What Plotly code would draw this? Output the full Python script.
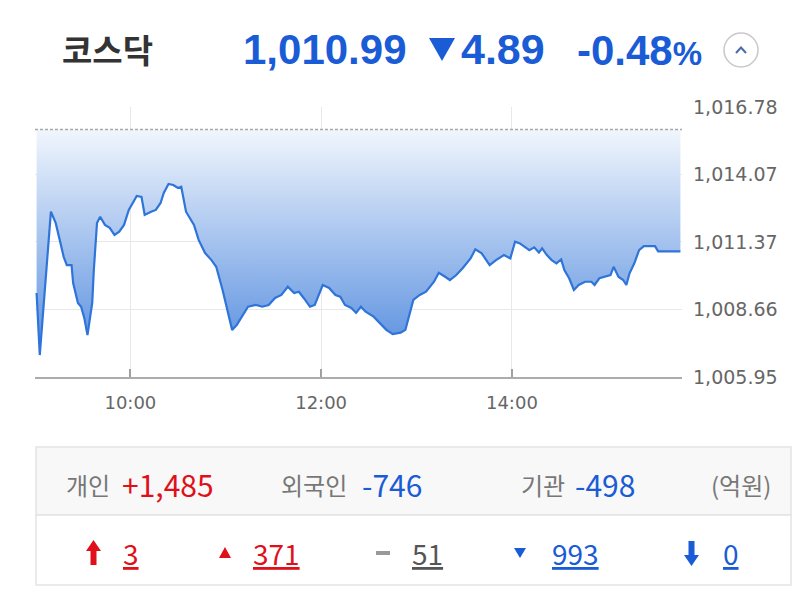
import plotly.graph_objects as go

# ---------------- data ----------------
index_name = "코스닥"
last_price = "1,010.99"
change_abs = "4.89"
change_pct = "-0.48"
prev_close = 1015.88

times = ["09:01","09:03","09:10","09:13","09:16","09:18","09:20","09:23","09:24","09:27",
         "09:29","09:31","09:33","09:36","09:37","09:39","09:41","09:44","09:47","09:50",
         "09:53","09:56","09:59","10:02","10:04","10:07","10:09","10:13","10:16","10:19",
         "10:21","10:24","10:27","10:30","10:32","10:35","10:40","10:43","10:47","10:51",
         "10:54","10:58","11:01","11:04","11:07","11:10","11:14","11:19","11:23","11:27",
         "11:31","11:35","11:39","11:43","11:46","11:49","11:53","11:56","11:59","12:01",
         "12:05","12:09","12:12","12:15","12:19","12:22","12:25","12:28","12:33","12:37",
         "12:41","12:45","12:50","12:53","12:56","12:58","13:02","13:06","13:11","13:14",
         "13:18","13:21","13:25","13:29","13:34","13:37","13:41","13:46","13:50","13:55",
         "13:59","14:02","14:05","14:08","14:11","14:14","14:17","14:19","14:22","14:25",
         "14:28","14:31","14:33","14:36","14:39","14:42","14:46","14:50","14:52","14:55",
         "14:59","15:02","15:04","15:07","15:10","15:12","15:14","15:17","15:20","15:23",
         "15:30","15:32","15:46"]

values = [1009.32, 1006.83, 1012.58, 1012.13, 1011.33, 1010.78, 1010.44, 1010.44, 1009.72, 1008.92,
          1008.77, 1008.32, 1007.63, 1008.92, 1010.24, 1012.13, 1012.38, 1012.05, 1011.93, 1011.65,
          1011.78, 1012.05, 1012.65, 1012.98, 1013.21, 1013.17, 1012.45, 1012.58, 1012.65, 1012.93,
          1013.33, 1013.69, 1013.65, 1013.53, 1013.58, 1012.58, 1012.05, 1011.44, 1010.92, 1010.64,
          1010.37, 1009.44, 1008.64, 1007.84, 1008.04, 1008.37, 1008.77, 1008.84, 1008.77, 1008.84,
          1009.12, 1009.24, 1009.57, 1009.32, 1009.37, 1009.12, 1008.77, 1008.84, 1009.37, 1009.64,
          1009.52, 1009.24, 1009.17, 1008.84, 1008.72, 1008.52, 1008.77, 1008.57, 1008.37, 1008.12,
          1007.84, 1007.67, 1007.73, 1007.84, 1008.52, 1009.04, 1009.24, 1009.37, 1009.77, 1010.13,
          1009.97, 1009.84, 1010.04, 1010.31, 1010.71, 1011.07, 1010.91, 1010.44, 1010.64, 1010.84,
          1010.71, 1011.38, 1011.31, 1011.18, 1011.04, 1011.15, 1010.94, 1011.11, 1010.84, 1010.64,
          1010.51, 1010.67, 1010.24, 1009.91, 1009.44, 1009.64, 1009.77, 1009.77, 1009.64, 1009.91,
          1009.97, 1010.04, 1010.37, 1009.97, 1009.84, 1009.64, 1010.11, 1010.51, 1011.04, 1011.20,
          1011.20, 1010.99, 1010.99]

y_ticks = [1005.95, 1008.66, 1011.37, 1014.07, 1016.78]
y_tick_labels = ["1,005.95", "1,008.66", "1,011.37", "1,014.07", "1,016.78"]
x_ticks = ["10:00", "12:00", "14:00"]
x_range = ["09:00", "15:47"]

investor_names = ["개인", "외국인", "기관"]
investor_values = ["+1,485", "-746", "-498"]
unit_label = "(억원)"
breadth_counts = ["3", "371", "51", "993", "0"]

# ---------------- styling ----------------
DAY = "2024-01-02 "
RED = "#e0101a"
BLUE = "#1a5bd6"
GRAY_TXT = "#777777"

OFF = 8  # page body margin offset
L, R, T, B = 35, 682, 107, 377   # plot area in screen pixels
W, H = 800, 589


def px(xp):
    return (xp - L) / (R - L)


def py(yp):
    return (B - yp) / (B - T)


xs = [DAY + t for t in times]

fig = go.Figure()

fig.add_trace(go.Scatter(x=[xs[0], xs[-1]], y=[prev_close, prev_close], mode="lines",
                         line=dict(width=0, color="rgba(0,0,0,0)"), hoverinfo="skip",
                         showlegend=False))
fig.add_trace(go.Scatter(x=xs, y=values, mode="lines", fill="tonexty",
                         line=dict(color="#2f74d9", width=2.2),
                         fillgradient=dict(type="vertical",
                                           colorscale=[[0, "#4a85dc"], [1, "#f1f6fd"]],
                                           start=y_ticks[0], stop=prev_close),
                         showlegend=False))
fig.add_trace(go.Scatter(x=[DAY + x_range[0], DAY + x_range[1]], y=[prev_close, prev_close],
                         mode="lines", line=dict(color="#a8a8a8", width=1.5, dash="3px,2px"),
                         hoverinfo="skip", showlegend=False))

fig.update_xaxes(type="date", range=[DAY + x_range[0], DAY + x_range[1]],
                 tickvals=[DAY + t for t in x_ticks], ticktext=x_ticks,
                 showgrid=True, gridcolor="#e8e8e8", gridwidth=1,
                 showline=True, linecolor="#acacac", linewidth=2,
                 ticks="inside", ticklen=8, tickcolor="#a0a0a0", tickwidth=1.5,
                 ticklabelstandoff=8,
                 tickfont=dict(family="DejaVu Sans", size=18, color="#666666"),
                 zeroline=False, fixedrange=True)
fig.update_yaxes(range=[y_ticks[0], y_ticks[-1]], side="right",
                 tickvals=y_ticks, ticktext=y_tick_labels,
                 showgrid=True, gridcolor="#e8e8e8", gridwidth=1,
                 showline=False, zeroline=False, ticks="",
                 ticklabelstandoff=10,
                 tickfont=dict(family="DejaVu Sans", size=19, color="#666666"))

annotations = []
shapes = []


def txt(text, xp, yp, size, color, family="Liberation Sans", anchor="left"):
    annotations.append(dict(text=text, x=px(xp), y=py(yp), xref="paper", yref="paper",
                            xanchor=anchor, yanchor="middle", showarrow=False,
                            font=dict(family=family, size=size, color=color)))


# ---- header ----
txt("<b>" + index_name + "</b>", 60, 49, 33, "#333333", family="Noto Sans CJK KR")
txt("<b>" + last_price + "</b>", 241, 49, 42, BLUE)
txt("<b>" + change_abs + "</b>", 459, 49, 43, BLUE)
txt("<b>" + change_pct + "</b><b><span style='font-size:33px'>%</span></b>", 575, 50, 42, BLUE)


def path_px(points, fill, line_color=None, width=0):
    d = "M " + " L ".join(f"{px(a)},{py(b)}" for a, b in points) + " Z"
    shapes.append(dict(type="path", path=d, xref="paper", yref="paper",
                       fillcolor=fill, line=dict(color=line_color or fill, width=width)))


path_px([(429, 38), (455, 38), (442, 61)], BLUE)

shapes.append(dict(type="circle", xref="paper", yref="paper",
                   x0=px(724), x1=px(758), y0=py(67), y1=py(33),
                   line=dict(color="#c9c9c9", width=1.5), fillcolor="white"))
shapes.append(dict(type="path", xref="paper", yref="paper",
                   path=f"M {px(736)},{py(53)} L {px(741)},{py(47.5)} L {px(746)},{py(53)}",
                   line=dict(color="#4a6aa8", width=2)))

# ---- table ----
shapes.append(dict(type="rect", xref="paper", yref="paper",
                   x0=px(36), x1=px(791), y0=py(447), y1=py(515),
                   fillcolor="#f8f8f8", line=dict(color="#e4e4e4", width=1.5), layer="below"))
shapes.append(dict(type="rect", xref="paper", yref="paper",
                   x0=px(36), x1=px(791), y0=py(515), y1=py(585),
                   fillcolor="white", line=dict(color="#e4e4e4", width=1.5), layer="below"))

row1 = 484
txt(investor_names[0], 64, row1, 24, GRAY_TXT, family="Noto Sans CJK KR")
txt(investor_values[0], 120, row1, 30, RED, family="Noto Sans CJK KR")
txt(investor_names[1], 279, row1, 24, GRAY_TXT, family="Noto Sans CJK KR")
txt(investor_values[1], 360, row1, 30, BLUE, family="Noto Sans CJK KR")
txt(investor_names[2], 519, row1, 24, GRAY_TXT, family="Noto Sans CJK KR")
txt(investor_values[2], 573, row1, 30, BLUE, family="Noto Sans CJK KR")
txt(unit_label, 709, row1, 24, GRAY_TXT, family="Noto Sans CJK KR")

row2 = 553
path_px([(86, 551), (93.5, 540), (101, 551), (96.5, 551), (96.5, 565), (90.5, 565), (90.5, 551)], RED)
txt("<u>" + breadth_counts[0] + "</u>", 121, row2, 28, RED, family="Noto Sans CJK KR")
path_px([(219, 558), (225, 547), (231, 558)], RED)
txt("<u>" + breadth_counts[1] + "</u>", 251, row2, 28, RED, family="Noto Sans CJK KR")
path_px([(376, 551), (390, 551), (390, 555), (376, 555)], "#999999")
txt("<u>" + breadth_counts[2] + "</u>", 410, row2, 28, "#555555", family="Noto Sans CJK KR")
path_px([(514, 548), (526, 548), (520, 558)], BLUE)
txt("<u>" + breadth_counts[3] + "</u>", 550, row2, 28, BLUE, family="Noto Sans CJK KR")
path_px([(684, 555), (691.5, 566), (699, 555), (694.5, 555), (694.5, 541), (688.5, 541), (688.5, 555)], BLUE)
txt("<u>" + breadth_counts[4] + "</u>", 721, row2, 28, BLUE, family="Noto Sans CJK KR")

fig.update_layout(width=W, height=H, autosize=False,
                  margin=dict(l=L - OFF, r=W - (R - OFF), t=T - OFF, b=H - (B - OFF), pad=0),
                  paper_bgcolor="white", plot_bgcolor="white",
                  annotations=annotations, shapes=shapes, showlegend=False,
                  hovermode=False)

fig.write_html("out.html")
